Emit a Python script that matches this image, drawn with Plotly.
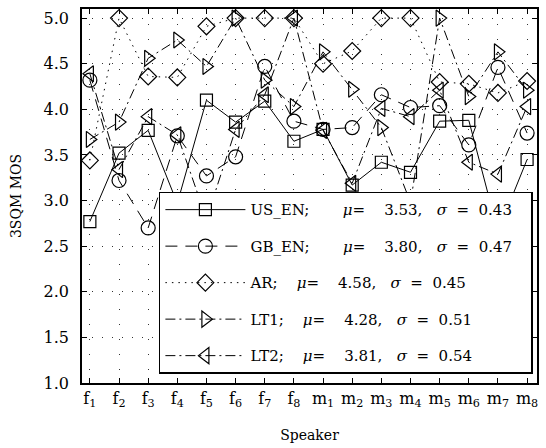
import plotly.graph_objects as go

speakers = ["f<sub>1</sub>", "f<sub>2</sub>", "f<sub>3</sub>", "f<sub>4</sub>", "f<sub>5</sub>",
            "f<sub>6</sub>", "f<sub>7</sub>", "f<sub>8</sub>", "m<sub>1</sub>", "m<sub>2</sub>",
            "m<sub>3</sub>", "m<sub>4</sub>", "m<sub>5</sub>", "m<sub>6</sub>", "m<sub>7</sub>",
            "m<sub>8</sub>"]
us_en = [2.77, 3.52, 3.77, 2.97, 4.10, 3.86, 4.09, 3.65, 3.78, 3.17, 3.42, 3.31, 3.87, 3.88, 2.66, 3.45]
gb_en = [4.32, 3.22, 2.70, 3.71, 3.27, 3.48, 4.47, 3.87, 3.78, 3.80, 4.16, 4.02, 4.04, 3.61, 4.46, 3.74]
ar = [3.44, 5.00, 4.36, 4.35, 4.91, 5.00, 5.00, 5.00, 4.50, 4.64, 5.00, 5.00, 4.30, 4.28, 4.18, 4.31]
lt1 = [3.67, 3.86, 4.56, 4.76, 4.47, 5.00, 4.32, 4.03, 4.63, 4.22, 3.80, 2.98, 5.00, 4.14, 4.63, 4.21]
lt2 = [4.39, 3.34, 3.92, 3.72, 2.80, 3.78, 4.16, 5.00, 3.77, 3.19, 4.01, 3.92, 4.21, 3.42, 3.29, 4.03]

names = ["US_EN", "GB_EN", "AR", "LT1", "LT2"]
mus = ["3.53", "3.80", "4.58", "4.28", "3.81"]
sigmas = ["0.43", "0.47", "0.45", "0.51", "0.54"]

series = [us_en, gb_en, ar, lt1, lt2]
symbols = ["square-open", "circle-open", "diamond-open", "triangle-right-open", "triangle-left-open"]
sizes = [12, 14, 13, 14, 14]
dashes = ["solid", "12px,8px", "1.5px,5px", "10px,4px,2px,4px", "10px,4px,2px,4px"]
name_gaps = [7, 7, 4, 4, 4]
tail_gaps = [0, 3, 0, 0, 0]

x = list(range(1, len(speakers) + 1))
NB = "\u00a0"

fig = go.Figure()
for i, (nm, ys) in enumerate(zip(names, series)):
    label = (f"{nm};{NB*name_gaps[i]}<i>μ</i>={NB*4}{mus[i]},{NB*3}"
             f"<i>σ</i>{NB*2}={NB*2}{sigmas[i]}{NB*tail_gaps[i]}")
    fig.add_trace(go.Scatter(
        x=x, y=ys, mode="lines+markers", name=label, legendgroup=nm,
        line=dict(color="black", width=1, dash=dashes[i]),
        marker=dict(symbol=symbols[i], size=sizes[i], color="black",
                    line=dict(color="black", width=1.2)),
    ))

font = "DejaVu Serif"
fig.update_layout(
    width=546, height=448,
    margin=dict(l=82, r=8, t=7, b=63),
    plot_bgcolor="white", paper_bgcolor="white",
    font=dict(family=font, size=16, color="black"),
    showlegend=True,
    legend=dict(x=0.169, y=0.511, xanchor="left", yanchor="top",
                bgcolor="white", bordercolor="black", borderwidth=1.5,
                font=dict(family=font, size=15, color="black"),
                itemwidth=80, tracegroupgap=14),
    xaxis=dict(range=[0.73, 16.34], tickmode="array", tickvals=x, ticktext=speakers,
               showline=True, linecolor="black", linewidth=1.5, mirror="allticks",
               ticks="inside", ticklen=5, tickcolor="black",
               showgrid=True, gridcolor="#333", gridwidth=1, griddash="1px,14px",
               zeroline=False, tickfont=dict(size=16),
               title=dict(text="Speaker", standoff=21, font=dict(size=14))),
    yaxis=dict(range=[1.0, 5.1], tickmode="linear", tick0=1.0, dtick=0.5, tickformat=".1f",
               showline=True, linecolor="black", linewidth=1.5, mirror="allticks",
               ticks="inside", ticklen=5, tickcolor="black",
               showgrid=True, gridcolor="#333", gridwidth=1, griddash="1px,9px",
               zeroline=False, ticklabelstandoff=8, tickfont=dict(size=16),
               title=dict(text="3SQM MOS", standoff=19, font=dict(size=14))),
)

fig.write_html("out.html")
